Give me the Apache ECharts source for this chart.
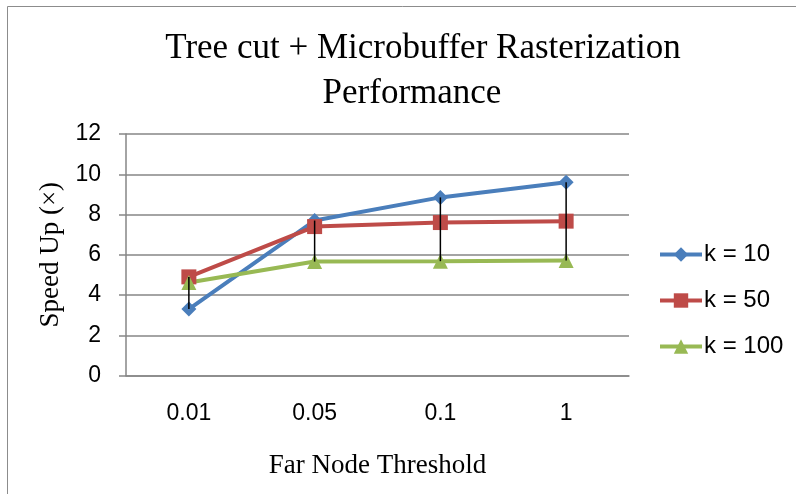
<!DOCTYPE html>
<html>
<head>
<meta charset="utf-8">
<script src="https://cdn.jsdelivr.net/npm/echarts@6/dist/echarts.min.js"></script>
<style>
  html, body { margin: 0; padding: 0; background: #fff; }
  #main { width: 796px; height: 494px; }
</style>
</head>
<body>
<div id="main"></div>
<script>
var thresholds = ['0.01', '0.05', '0.1', '1'];
var k10 = [3.3, 7.7, 8.85, 9.6];
var k50 = [4.9, 7.4, 7.6, 7.67];
var k100 = [4.62, 5.66, 5.68, 5.72];
var yTicks = [0, 2, 4, 6, 8, 10, 12];

var myChart = echarts.init(document.getElementById('main'));

// high-low lines between the highest and lowest value of each category
var hiLo = thresholds.map(function (c, i) {
    var vals = [k10[i], k50[i], k100[i]];
    return [i, Math.min.apply(null, vals), Math.max.apply(null, vals)];
});

var titleStyle = {
    fontFamily: 'Liberation Serif',
    fontWeight: 'normal',
    fontSize: 35,
    lineHeight: 35,
    color: '#000'
};

var option = {
    backgroundColor: '#fff',
    animation: false,
    title: [{
        text: 'Tree cut + Microbuffer Rasterization',
        left: 418,
        top: 26,
        textAlign: 'center',
        textStyle: titleStyle
    }, {
        text: 'Performance',
        left: 407,
        top: 71,
        textAlign: 'center',
        textStyle: titleStyle
    }],
    graphic: [{
        type: 'rect',
        shape: { x: 7.5, y: 6.5, width: 800, height: 500 },
        style: { fill: 'none', stroke: '#8c8c8c', lineWidth: 1 }
    }],
    legend: {
        orient: 'vertical',
        left: 653,
        top: 237,
        itemWidth: 42,
        itemHeight: 18,
        itemGap: 21,
        lineStyle: { width: 4 },
        textStyle: { fontFamily: 'Liberation Sans', fontSize: 24, lineHeight: 25, color: '#000', padding: [0, 0, 0, -3] },
        data: ['k = 10', 'k = 50', 'k = 100']
    },
    grid: { left: 126, right: 167, top: 134, bottom: 118.5 },
    xAxis: {
        type: 'category',
        data: thresholds,
        boundaryGap: true,
        name: 'Far Node Threshold',
        nameLocation: 'middle',
        nameGap: 77,
        nameTextStyle: { fontFamily: 'Liberation Serif', fontSize: 27, color: '#000' },
        axisLine: { lineStyle: { color: '#868686', width: 1.5 } },
        axisTick: { show: false },
        axisLabel: { margin: 27, fontFamily: 'Liberation Sans', fontSize: 23, color: '#000' }
    },
    yAxis: {
        type: 'value',
        min: yTicks[0],
        max: yTicks[yTicks.length - 1],
        interval: 2,
        name: 'Speed Up (×)',
        nameLocation: 'middle',
        nameGap: 60,
        nameTextStyle: { fontFamily: 'Liberation Serif', fontSize: 27, color: '#000' },
        axisLine: { show: true, lineStyle: { color: '#868686', width: 1.5 } },
        axisTick: { show: true, length: 7, lineStyle: { color: '#868686', width: 1.5 } },
        axisLabel: { margin: 25, fontFamily: 'Liberation Sans', fontSize: 23, color: '#000' },
        splitLine: { lineStyle: { color: '#868686', width: 1.5 } }
    },
    series: [{
        name: 'hilo',
        type: 'custom',
        silent: true,
        z: 3,
        data: hiLo,
        renderItem: function (params, api) {
            var a = api.coord([api.value(0), api.value(1)]);
            var b = api.coord([api.value(0), api.value(2)]);
            return {
                type: 'line',
                shape: { x1: a[0], y1: a[1], x2: b[0], y2: b[1] },
                style: { stroke: '#000', lineWidth: 1.5 }
            };
        }
    }, {
        name: 'k = 10',
        type: 'line',
        data: k10,
        symbol: 'diamond',
        symbolSize: 15,
        color: '#4a7ebb',
        lineStyle: { width: 4 },
        z: 2
    }, {
        name: 'k = 50',
        type: 'line',
        data: k50,
        symbol: 'rect',
        symbolSize: 15,
        color: '#be4b48',
        lineStyle: { width: 4 },
        z: 2
    }, {
        name: 'k = 100',
        type: 'line',
        data: k100,
        symbol: 'triangle',
        symbolSize: 15,
        color: '#98b954',
        lineStyle: { width: 4 },
        z: 2
    }]
};

myChart.setOption(option);
</script>
</body>
</html>
